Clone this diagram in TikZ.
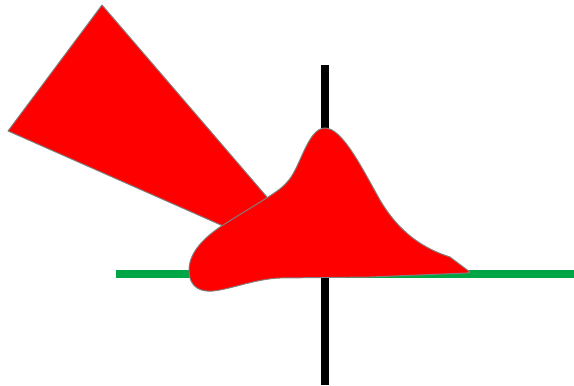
\documentclass[tikz,border=0pt]{standalone}
\definecolor{axisgreen}{RGB}{0,166,70}
\definecolor{blobred}{RGB}{255,0,0}

\begin{document}
\begin{tikzpicture}[line join=round,
    redshape/.style={fill=blobred,draw=gray,line width=0.55pt}]
  \useasboundingbox (-6.5,-2.22) rectangle (4.98,5.48);
  % axes
  \draw[line width=0.16cm] (0,4.18)--(0,-2.22);
  \draw[axisgreen,line width=0.16cm] (-4.18,0)--(4.98,0);
  % wedge
  \draw[redshape] (-4.46,5.38)--(-6.34,2.86)--(0.18,-0.02)--cycle;
  % blob
  \draw[redshape] (2.9,0.04)--(2.5,0.34)
    .. controls (2.0,0.5) and (1.5,0.8) .. (1.1,1.48)
    .. controls (0.75,2.1) and (0.35,2.92) .. (0,2.92)
    .. controls (-0.35,2.92) and (-0.5,2.1) .. (-0.75,1.85)
    .. controls (-0.9,1.65) and (-1.3,1.45) .. (-2.1,0.94)
    .. controls (-2.6,0.6) and (-2.72,0.3) .. (-2.72,0.08)
    .. controls (-2.72,-0.3) and (-2.45,-0.36) .. (-2.24,-0.34)
    .. controls (-1.9,-0.31) and (-1.4,-0.1) .. (-0.9,-0.08)
    -- (0.9,-0.06) -- (2.84,0.02) -- cycle;
\end{tikzpicture}
\end{document}
